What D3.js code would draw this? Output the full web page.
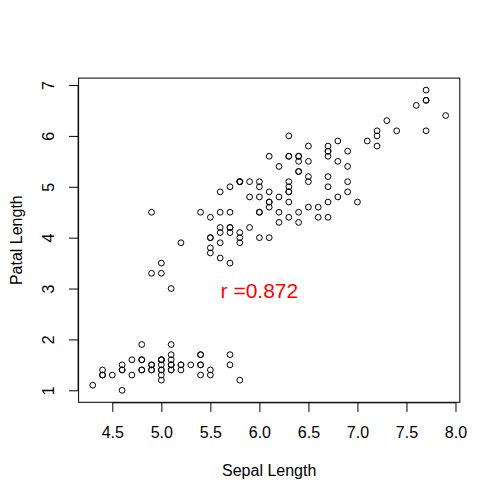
<!DOCTYPE html>
<html>
<head>
<meta charset="utf-8">
<script src="https://cdn.jsdelivr.net/npm/d3@7"></script>
<style>
  html, body { margin: 0; padding: 0; background: #fff; }
  svg { display: block; font-family: "Liberation Sans", Arial, sans-serif; }
</style>
</head>
<body>
<svg id="chart" width="500" height="500"></svg>
<script>
// Iris data: sepal length and petal length (150 flowers)
const sepalLength = [
  5.1,4.9,4.7,4.6,5.0,5.4,4.6,5.0,4.4,4.9,5.4,4.8,4.8,4.3,5.8,5.7,5.4,5.1,5.7,5.1,
  5.4,5.1,4.6,5.1,4.8,5.0,5.0,5.2,5.2,4.7,4.8,5.4,5.2,5.5,4.9,5.0,5.5,4.9,4.4,5.1,
  5.0,4.5,4.4,5.0,5.1,4.8,5.1,4.6,5.3,5.0,
  7.0,6.4,6.9,5.5,6.5,5.7,6.3,4.9,6.6,5.2,5.0,5.9,6.0,6.1,5.6,6.7,5.6,5.8,6.2,5.6,
  5.9,6.1,6.3,6.1,6.4,6.6,6.8,6.7,6.0,5.7,5.5,5.5,5.8,6.0,5.4,6.0,6.7,6.3,5.6,5.5,
  5.5,6.1,5.8,5.0,5.6,5.7,5.7,6.2,5.1,5.7,
  6.3,5.8,7.1,6.3,6.5,7.6,4.9,7.3,6.7,7.2,6.5,6.4,6.8,5.7,5.8,6.4,6.5,7.7,7.7,6.0,
  6.9,5.6,7.7,6.3,6.7,7.2,6.2,6.1,6.4,7.2,7.4,7.9,6.4,6.3,6.1,7.7,6.3,6.4,6.0,6.9,
  6.7,6.9,5.8,6.8,6.7,6.7,6.3,6.5,6.2,5.9
];
const petalLength = [
  1.4,1.4,1.3,1.5,1.4,1.7,1.4,1.5,1.4,1.5,1.5,1.6,1.4,1.1,1.2,1.5,1.3,1.4,1.7,1.5,
  1.7,1.5,1.0,1.7,1.9,1.6,1.6,1.5,1.4,1.6,1.6,1.5,1.5,1.4,1.5,1.2,1.3,1.4,1.3,1.5,
  1.3,1.3,1.3,1.6,1.9,1.4,1.6,1.4,1.5,1.4,
  4.7,4.5,4.9,4.0,4.6,4.5,4.7,3.3,4.6,3.9,3.5,4.2,4.0,4.7,3.6,4.4,4.5,4.1,4.5,3.9,
  4.8,4.0,4.9,4.7,4.3,4.4,4.8,5.0,4.5,3.5,3.8,3.7,3.9,5.1,4.5,4.5,4.7,4.4,4.1,4.0,
  4.4,4.6,4.0,3.3,4.2,4.2,4.2,4.3,3.0,4.1,
  6.0,5.1,5.9,5.6,5.8,6.6,4.5,6.3,5.8,6.1,5.1,5.3,5.5,5.0,5.1,5.3,5.5,6.7,6.9,5.0,
  5.7,4.9,6.7,4.9,5.7,6.0,4.8,4.9,5.6,5.8,6.1,6.4,5.6,5.1,5.6,6.1,5.6,5.5,4.8,5.4,
  5.6,5.1,5.1,5.9,5.7,5.2,5.0,5.2,5.4,5.1
];
const xTicks = [4.5, 5.0, 5.5, 6.0, 6.5, 7.0, 7.5, 8.0];
const xTickLabels = ["4.5", "5.0", "5.5", "6.0", "6.5", "7.0", "7.5", "8.0"];
const yTicks = [1, 2, 3, 4, 5, 6, 7];
const yTickLabels = ["1", "2", "3", "4", "5", "6", "7"];
const xLabel = "Sepal Length";
const yLabel = "Patal Length";
const annotation = { x: 6, y: 3, text: "r =0.872" };

(function () {
const svg = d3.select("#chart");
const pLeft = 78.6, pRight = 459.8, pTop = 78.1, pBottom = 402.3;

// R-style 4% range extension
const xMin = d3.min(sepalLength), xMax = d3.max(sepalLength);
const yMin = d3.min(petalLength), yMax = d3.max(petalLength);
const xPad = (xMax - xMin) * 0.04, yPad = (yMax - yMin) * 0.04;
const x = d3.scaleLinear().domain([xMin - xPad, xMax + xPad]).range([pLeft, pRight]);
const y = d3.scaleLinear().domain([yMin - yPad, yMax + yPad]).range([pBottom, pTop]);

// box
svg.append("rect")
  .attr("x", pLeft).attr("y", pTop)
  .attr("width", pRight - pLeft).attr("height", pBottom - pTop)
  .attr("fill", "none").attr("stroke", "#000").attr("stroke-width", 1);

// x axis
const xAxis = d3.axisBottom(x).tickValues(xTicks)
  .tickFormat((d, i) => xTickLabels[i]).tickSizeOuter(0).tickSize(9.6).tickPadding(0);
const gx = svg.append("g").attr("transform", `translate(0,${pBottom})`).call(xAxis);
gx.select(".domain")
  .attr("d", `M${x(xTicks[0])},0.5H${x(xTicks[xTicks.length - 1])}`)
  .attr("stroke", "#000").attr("stroke-width", 1);
gx.selectAll(".tick line").attr("stroke", "#000");
gx.selectAll(".tick text")
  .attr("y", 36).attr("dy", null)
  .attr("font-size", 16).attr("font-family", "Liberation Sans, Arial, sans-serif")
  .attr("fill", "#000");

// y axis
const yAxis = d3.axisLeft(y).tickValues(yTicks)
  .tickFormat((d, i) => yTickLabels[i]).tickSizeOuter(0).tickSize(9.6).tickPadding(0);
const gy = svg.append("g").attr("transform", `translate(${pLeft},0)`).call(yAxis);
gy.select(".domain")
  .attr("d", `M-0.5,${y(yTicks[0])}V${y(yTicks[yTicks.length - 1])}`)
  .attr("stroke", "#000").attr("stroke-width", 1);
gy.selectAll(".tick line").attr("stroke", "#000");
gy.selectAll(".tick text")
  .attr("x", null).attr("dy", null)
  .attr("transform", "translate(-24.6,0) rotate(-90)")
  .attr("text-anchor", "middle")
  .attr("font-size", 16).attr("font-family", "Liberation Sans, Arial, sans-serif")
  .attr("fill", "#000");

// axis titles
svg.append("text")
  .attr("x", (pLeft + pRight) / 2).attr("y", 476)
  .attr("text-anchor", "middle").attr("font-size", 16).attr("fill", "#000")
  .text(xLabel);
svg.append("text")
  .attr("transform", `translate(21.5,${(pTop + pBottom) / 2}) rotate(-90)`)
  .attr("text-anchor", "middle").attr("font-size", 16).attr("fill", "#000")
  .text(yLabel);

// points
svg.append("g").selectAll("circle")
  .data(sepalLength.map((d, i) => [d, petalLength[i]]))
  .join("circle")
  .attr("cx", d => x(d[0])).attr("cy", d => y(d[1]))
  .attr("r", 2.9)
  .attr("fill", "none").attr("stroke", "#000").attr("stroke-width", 1);

// annotation
svg.append("text")
  .attr("x", x(annotation.x)).attr("y", y(annotation.y) + 9)
  .attr("text-anchor", "middle").attr("font-size", 21).attr("fill", "#ff0000")
  .text(annotation.text);
})();
</script>
</body>
</html>
